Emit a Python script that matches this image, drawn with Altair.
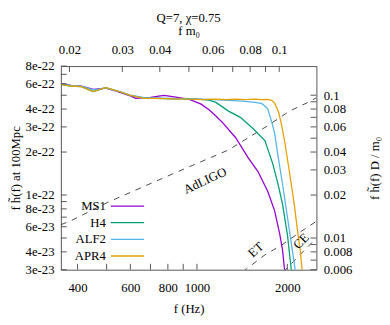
import altair as alt
import pandas as pd

FONT = "Liberation Serif"

# ---------------- data ----------------
eos_names = ["MS1", "H4", "ALF2", "APR4"]
eos_colors = ["#9400d3", "#009e73", "#56b4e9", "#e69f00"]

ms1_f = [352, 380, 412, 451, 497, 545, 600, 625, 700, 776, 850, 944, 1032, 1097, 1156, 1219, 1344, 1482, 1597, 1722, 1815, 1885, 1928, 1958, 1975]
ms1_h = [6.05e-22, 5.85e-22, 5.8e-22, 5.5e-22, 5.6e-22, 5.3e-22, 4.95e-22, 4.75e-22, 4.82e-22, 4.98e-22, 4.85e-22, 4.68e-22,
         4.33e-22, 3.95e-22, 3.58e-22, 3.2e-22, 2.53e-22, 1.82e-22, 1.46e-22, 1.06e-22, 7.75e-23, 5.39e-23, 4.13e-23, 3.0e-23, 2.5e-23]

h4_f = [352, 380, 412, 451, 497, 545, 600, 667, 736, 824, 944, 1032, 1097, 1156, 1274, 1395, 1527, 1684, 1788, 1857, 1928, 2003, 2063, 2080]
h4_h = [5.95e-22, 5.8e-22, 5.75e-22, 5.3e-22, 5.65e-22, 5.35e-22, 4.98e-22, 4.78e-22, 4.75e-22, 4.72e-22, 4.74e-22, 4.68e-22,
        4.62e-22, 4.45e-22, 3.87e-22, 3.5e-22, 2.96e-22, 2.41e-22, 1.66e-22, 1.22e-22, 8.65e-23, 5.22e-23, 2.96e-23, 2.6e-23]

alf2_f = [352, 380, 412, 451, 497, 545, 600, 667, 736, 824, 944, 1097, 1274, 1417, 1562, 1646, 1684, 1722, 1774, 1815, 1857, 1928, 2017, 2126, 2145]
alf2_h = [6.0e-22, 5.85e-22, 5.8e-22, 5.45e-22, 5.6e-22, 5.35e-22, 5.0e-22, 4.8e-22, 4.78e-22, 4.75e-22, 4.72e-22, 4.68e-22,
          4.6e-22, 4.54e-22, 4.45e-22, 4.36e-22, 4.2e-22, 4.0e-22, 3.25e-22, 2.7e-22, 1.95e-22, 1.19e-22, 6.31e-23, 2.96e-23, 2.6e-23]

apr4_f = [352, 380, 412, 451, 497, 545, 600, 667, 736, 824, 944, 1050, 1150, 1250, 1350, 1450, 1550, 1650, 1720, 1774, 1815, 1871,
          1914, 1958, 2033, 2111, 2159, 2208, 2242, 2260]
apr4_h = [5.95e-22, 5.8e-22, 5.75e-22, 5.3e-22, 5.65e-22, 5.35e-22, 4.98e-22, 4.75e-22, 4.75e-22, 4.72e-22, 4.70e-22, 4.66e-22,
          4.70e-22, 4.66e-22, 4.70e-22, 4.66e-22, 4.70e-22, 4.66e-22, 4.68e-22, 4.6e-22, 4.4e-22, 3.8e-22,
          3.1e-22, 2.4e-22, 1.45e-22, 8.5e-23, 5.8e-23, 4.1e-23, 2.96e-23, 2.7e-23]

# detector curves
det_names = ["AdLIGO", "ET", "CE"]
adligo_f = [352, 380, 505, 800, 1274, 1722, 2033, 2310, 2500]
adligo_h = [6.2e-23, 6.6e-23, 8.9e-23, 1.36e-22, 2.07e-22, 3.06e-22, 3.87e-22, 4.39e-22, 4.8e-22]
et_f = [1420, 1684, 1914, 2225, 2500]
et_h = [2.9e-23, 3.81e-23, 4.46e-23, 5.57e-23, 6.55e-23]
ce_f = [1940, 2500]
ce_h = [2.9e-23, 5.0e-23]

det_label_f = [1064, 1573, 2225]
det_label_h = [1.26e-22, 4.13e-23, 4.75e-23]
det_label_angle = [335, 318, 315]

# axes
x_domain = [352, 2500]
y_domain = [3e-23, 8e-22]
top_domain = [0.018726, 0.133]
right_domain = [0.006, 0.16]

bottom_ticks = [400, 500, 600, 700, 800, 900, 1000, 2000]
bottom_labels = [400, 600, 800, 1000, 2000]
left_ticks = [3e-23, 4e-23, 5e-23, 6e-23, 7e-23, 8e-23, 9e-23, 1e-22, 2e-22, 3e-22, 4e-22, 5e-22, 6e-22, 7e-22, 8e-22]
left_labels = [3e-23, 4e-23, 6e-23, 8e-23, 1e-22, 2e-22, 3e-22, 4e-22, 6e-22, 8e-22]
top_ticks = [0.02, 0.03, 0.04, 0.05, 0.06, 0.07, 0.08, 0.09, 0.1]
top_labels = [0.02, 0.03, 0.04, 0.06, 0.08, 0.1]
right_ticks = [0.006, 0.007, 0.008, 0.009, 0.01, 0.02, 0.03, 0.04, 0.05, 0.06, 0.07, 0.08, 0.09, 0.1]
right_labels = [0.006, 0.008, 0.01, 0.02, 0.03, 0.04, 0.06, 0.08, 0.1]

# ---------------- tables ----------------
rows = []
for name, fs, hs in [("MS1", ms1_f, ms1_h), ("H4", h4_f, h4_h), ("ALF2", alf2_f, alf2_h), ("APR4", apr4_f, apr4_h)]:
    rows += [{"eos": name, "f": a, "h": b} for a, b in zip(fs, hs)]
curves = pd.DataFrame(rows)

drows = []
for name, fs, hs in [("AdLIGO", adligo_f, adligo_h), ("ET", et_f, et_h), ("CE", ce_f, ce_h)]:
    drows += [{"det": name, "f": a, "h": b} for a, b in zip(fs, hs)]
dets = pd.DataFrame(drows)
det_labels = pd.DataFrame({"text": det_names, "f": det_label_f, "h": det_label_h, "angle": det_label_angle})

W, H = 261, 208
TICK = 6
AXC = "#555555"

xs = alt.Scale(type="log", domain=x_domain, nice=False)
ys = alt.Scale(type="log", domain=y_domain, nice=False)
color = alt.Color("eos:N", scale=alt.Scale(domain=eos_names, range=eos_colors), legend=None)

x_enc = alt.X("f:Q", scale=xs, axis=alt.Axis(values=bottom_labels, format="d", title="f (Hz)",
                                            labelPadding=12, titlePadding=9))
y_enc = alt.Y("h:Q", scale=ys, axis=alt.Axis(values=left_labels, format=".0e", title="f h\u0303(f) at 100Mpc",
                                            labelPadding=7, titlePadding=3))

lines = alt.Chart(curves).mark_line(clip=True, strokeWidth=1.3).encode(x=x_enc, y=y_enc, color=color, detail="eos:N")
noise = alt.Chart(dets).mark_line(clip=True, strokeWidth=0.9, strokeDash=[6, 6], color="#333333").encode(
    x=x_enc, y=y_enc, detail="det:N")
noise_txt = alt.Chart(det_labels).mark_text(font=FONT, fontSize=13, color="black", baseline="middle").encode(
    x=x_enc, y=y_enc, text="text:N", angle=alt.Angle("angle:Q", scale=None))
bt = alt.Chart(pd.DataFrame({"f": bottom_ticks})).mark_rule(color=AXC).encode(
    x=x_enc, y=alt.value(H), y2=alt.value(H - TICK))
lt = alt.Chart(pd.DataFrame({"h": left_ticks})).mark_rule(color=AXC).encode(
    y=y_enc, x=alt.value(0), x2=alt.value(TICK))
main = alt.layer(noise, lines, noise_txt, bt, lt)

tx = alt.X("fm0:Q", scale=alt.Scale(type="log", domain=top_domain, nice=False),
           axis=alt.Axis(orient="top", values=top_labels, format="~g", title="f m\u2080",
                         labelPadding=10, titlePadding=6))
ry = alt.Y("r:Q", scale=alt.Scale(type="log", domain=right_domain, nice=False),
           axis=alt.Axis(orient="right", values=right_labels, format="~g", title="f h\u0303(f) D / m\u2080",
                         labelPadding=7, titlePadding=30, titleAngle=270))
tt = alt.Chart(pd.DataFrame({"fm0": top_ticks})).mark_rule(color=AXC).encode(
    x=tx, y=alt.value(0), y2=alt.value(TICK))
rt = alt.Chart(pd.DataFrame({"r": right_ticks})).mark_rule(color=AXC).encode(
    y=ry, x=alt.value(W), x2=alt.value(W - TICK))
second = alt.layer(tt, rt)

leg_df = pd.DataFrame({"eos": eos_names})
ly = alt.Y("eos:N", scale=alt.Scale(type="point", domain=eos_names, range=[143, 194], padding=0), axis=None)
leg_line = alt.Chart(leg_df).mark_rule(strokeWidth=1.3).encode(y=ly, x=alt.value(51), x2=alt.value(85), color=color)
leg_txt = alt.Chart(leg_df).mark_text(font=FONT, fontSize=13, align="right", baseline="middle", color="black").encode(
    y=ly, x=alt.value(46), text="eos:N")
legend = alt.layer(leg_line, leg_txt)

chart = alt.layer(main, second, legend).resolve_scale(x="independent", y="independent").properties(
    width=W, height=H,
    title=alt.TitleParams("Q=7, \u03c7=0.75", font=FONT, fontSize=13, fontWeight="normal", anchor="middle",
                          color="black", offset=0),
    padding={"left": 54, "top": 56, "right": 67, "bottom": 45},
    autosize=alt.AutoSizeParams(type="none"),
).configure_view(stroke=AXC, strokeWidth=1).configure_axis(
    labelFont=FONT, titleFont=FONT, labelFontSize=13, titleFontSize=13, titleFontWeight="normal",
    labelColor="black", titleColor="black", grid=False, ticks=False, tickSize=0, domain=False
)

chart.save("out.html", embed_options={"renderer": "svg", "actions": False})
